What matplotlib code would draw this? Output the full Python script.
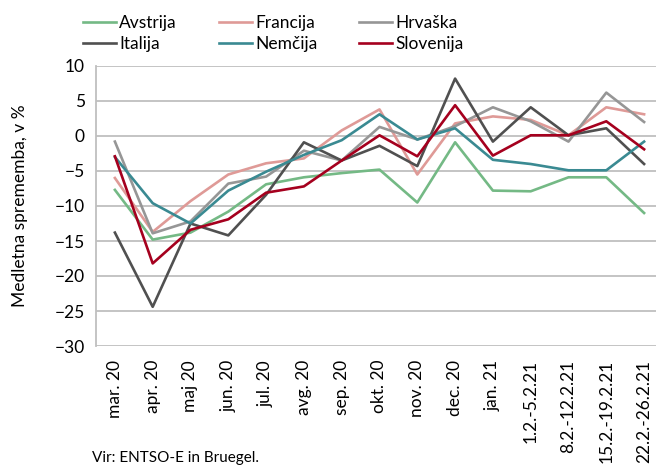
import numpy as np
import matplotlib.pyplot as plt

plt.rcParams['font.family'] = ['Liberation Sans Narrow', 'Lato', 'DejaVu Sans']

# categories (months / weeks)
categories = ['mar. 20', 'apr. 20', 'maj 20', 'jun. 20', 'jul. 20', 'avg. 20',
              'sep. 20', 'okt. 20', 'nov. 20', 'dec. 20', 'jan. 21',
              '1.2.-5.2.21', '8.2.-12.2.21', '15.2.-19.2.21', '22.2.-26.2.21']

# year-on-year change, in %
avstrija = [-7.7, -14.8, -13.8, -10.8, -6.9, -5.9, -5.3, -4.8, -9.5, -0.9,
            -7.8, -7.9, -5.9, -5.9, -11.0]
francija = [-6.0, -13.7, -9.3, -5.5, -3.9, -3.2, 0.8, 3.8, -5.5, 1.8,
            2.8, 2.3, 0.1, 4.1, 3.1]
hrvaska = [-0.8, -13.9, -12.2, -6.8, -5.8, -2.1, -3.5, 1.3, -0.5, 1.4,
           4.1, 2.1, -0.8, 6.2, 2.0]
italija = [-13.8, -24.4, -12.5, -14.2, -8.4, -0.9, -3.5, -1.4, -4.3, 8.2,
           -0.8, 4.1, 0.1, 1.1, -4.0]
nemcija = [-3.0, -9.6, -12.5, -7.8, -5.1, -2.7, -0.6, 3.1, -0.5, 1.1,
           -3.4, -4.0, -4.9, -4.9, -0.8]
slovenija = [-2.9, -18.2, -13.4, -11.9, -8.1, -7.2, -3.5, 0.1, -2.9, 4.4,
             -2.8, 0.1, 0.1, 2.1, -1.9]

series = [('Avstrija', avstrija, '#74b985'),
          ('Francija', francija, '#df9a97'),
          ('Hrvaška', hrvaska, '#969696'),
          ('Italija', italija, '#505050'),
          ('Nemčija', nemcija, '#3a8a92'),
          ('Slovenija', slovenija, '#a5001e')]

fig = plt.figure(figsize=(6.56, 4.65), dpi=100)
ax = fig.add_axes([96 / 656, 119 / 465, 567 / 656, 280 / 465])

x = np.arange(len(categories))
lines = {}
for name, vals, col in series:
    ln, = ax.plot(x, vals, color=col, linewidth=1.9, label=name)
    lines[name] = ln

ax.set_xlim(-0.5, len(categories) - 0.5)
ax.set_ylim(-30, 10)
ax.set_yticks(np.arange(-30, 11, 5))
ax.set_xticks(x)
ax.set_xticklabels(categories, rotation=90)
ax.tick_params(axis='both', length=0, labelsize=12.5, colors='black')
ax.tick_params(axis='x', pad=10)
ax.tick_params(axis='y', pad=8)
ax.grid(axis='y', color='#bfbfbf', linewidth=1.3)
ax.set_axisbelow(True)
for s in ['top', 'right', 'bottom']:
    ax.spines[s].set_visible(False)
ax.spines['left'].set_color('#bfbfbf')
ax.spines['left'].set_linewidth(1.3)

ax.set_ylabel('Medletna sprememba, v %', fontsize=12.5)
ax.yaxis.set_label_coords(-0.12, 0.5)

order = ['Avstrija', 'Italija', 'Francija', 'Nemčija', 'Hrvaška', 'Slovenija']
fig.legend([lines[n] for n in order], order, ncol=3, frameon=False,
           loc='upper left', bbox_to_anchor=(76 / 656, 1 - 8 / 465),
           fontsize=12.5, handlelength=1.9, handletextpad=0.2,
           columnspacing=2.4, labelspacing=0.3, borderaxespad=0)

fig.text(92 / 656, 0.0, 'Vir: ENTSO-E in Bruegel.', fontsize=11,
         va='bottom', ha='left')

fig.savefig('out.png', dpi=100)
